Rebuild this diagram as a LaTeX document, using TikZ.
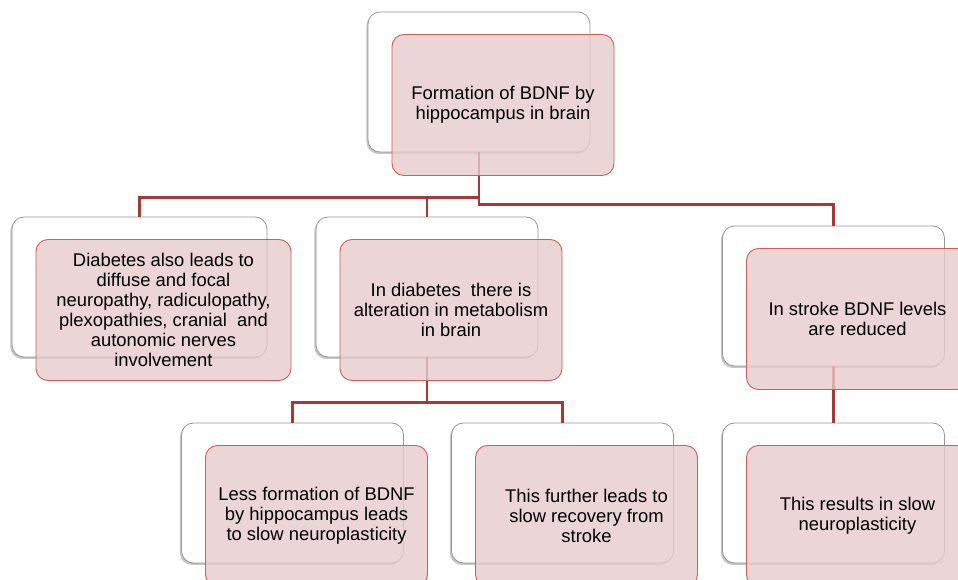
\documentclass[tikz,border=0pt]{standalone}
\usepackage{fontspec}
\setmainfont{Liberation Sans}
\usetikzlibrary{calc}
\usetikzlibrary{shadows}

\definecolor{linkred}{RGB}{168,56,56}
\definecolor{pinkfill}{RGB}{230,203,204}
\definecolor{pinkline}{RGB}{208,92,92}
\definecolor{backline}{RGB}{150,150,150}

\tikzset{
    backbox/.style={draw=backline,fill=white,rounded corners=9pt,line width=0.6pt,
        minimum height=105pt,inner sep=0pt,
        drop shadow={shadow xshift=-1.2pt,shadow yshift=-1.5pt,opacity=0.45}},
    pinkbox/.style={draw=pinkline,fill=pinkfill,fill opacity=0.8,text opacity=1,
        rounded corners=9pt,line width=0.7pt,minimum height=105.75pt,inner sep=0pt,
        align=center,font=\fontsize{13.8}{15}\selectfont,text=black},
    link/.style={linkred,line width=2.1pt}
}

\begin{document}
\begin{tikzpicture}[x=0.75pt,y=-0.75pt]
            \useasboundingbox (0,0) rectangle (958,580);
            \clip (0,0) rectangle (958,580);
            % draw the white boxes behind
            \foreach \n/\x/\y/\w in {wtop/479/82/166.5,wleft/139.5/287/191.25,wmid/427/287/166.5,
                    wright/833.5/296/166.5,wbl/292.5/493/166.5,wbm/562.5/493/166.5,wbr/833.5/493/166.5}
                \node[backbox,minimum width=\w pt] (\n) at (\x,\y) {};
            % draw the connectors
            \draw[link] (wtop.south) -- ++(0,45) -| (wleft.north);
            \draw[link] (wtop.south) -- ++(0,45) -| (wmid.north);
            \draw[link] (wtop.south) -- ++(0,52) -| (wright.north);
            \draw[link] (wmid.south) -- ++(0,45) -| (wbl.north);
            \draw[link] (wmid.south) -- ++(0,45) -| (wbm.north);
            \draw[link] (wright.south) -- (wbr.north);
            % draw the pink boxes in front
            \node[pinkbox,minimum width=166.5pt] (ptop) at ([shift={(24,23)}]wtop.center)
                {Formation of BDNF by\\hippocampus in brain};
            \node[pinkbox,minimum width=191.25pt] (pleft) at ([shift={(24,23)}]wleft.center)
                {Diabetes also leads to\\diffuse and focal\\neuropathy, radiculopathy,\\plexopathies, cranial\ \ and\\autonomic nerves\\involvement};
            \node[pinkbox,minimum width=166.5pt] (pmid) at ([shift={(24,23)}]wmid.center)
                {In diabetes\ \ there is\\alteration in metabolism\\in brain};
            \node[pinkbox,minimum width=166.5pt] (pright) at ([shift={(24,23)}]wright.center)
                {In stroke BDNF levels\\are reduced};
            \node[pinkbox,minimum width=166.5pt] (pbl) at ([shift={(24,23)}]wbl.center)
                {Less formation of BDNF\\by hippocampus leads\\to slow neuroplasticity};
            \node[pinkbox,minimum width=166.5pt] (pbm) at ([shift={(24,23)}]wbm.center)
                {This further leads to\\slow recovery from\\stroke};
            \node[pinkbox,minimum width=166.5pt] (pbr) at ([shift={(24,23)}]wbr.center)
                {This results in slow\\neuroplasticity};
        \end{tikzpicture}
\end{document}
